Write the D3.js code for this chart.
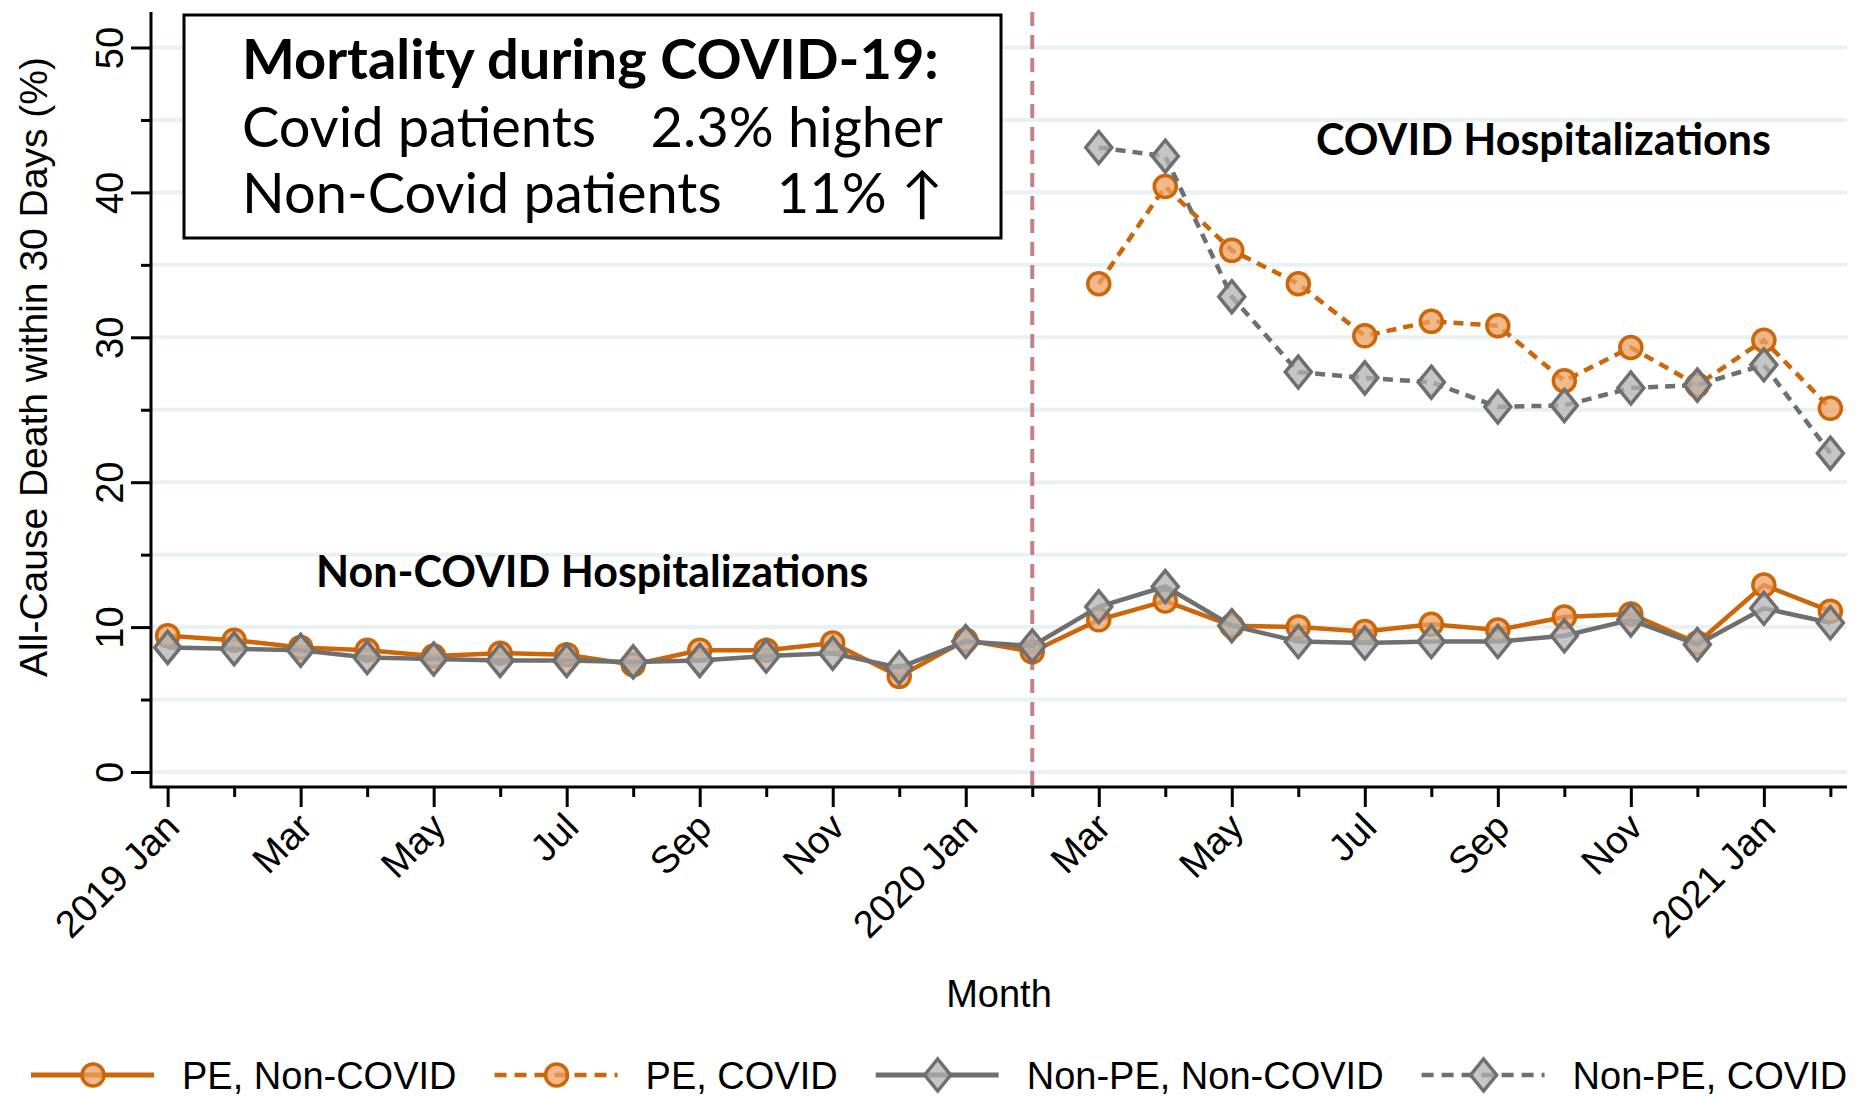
<!DOCTYPE html>
<html>
<head>
<meta charset="utf-8">
<script src="https://cdn.jsdelivr.net/npm/d3@7"></script>
<style>
  html, body { margin: 0; padding: 0; background: #fff; }
  svg { display: block; }
  text { font-family: "Liberation Sans", Arial, sans-serif; fill: #000; }
  .note { font-family: Lato, "Open Sans", sans-serif; }
</style>
</head>
<body>
<div id="chart"></div>
<script>
  // months on the x axis (monthly index)
  const months = ["2019m1","2019m2","2019m3","2019m4","2019m5","2019m6","2019m7","2019m8","2019m9","2019m10","2019m11","2019m12",
    "2020m1","2020m2","2020m3","2020m4","2020m5","2020m6","2020m7","2020m8","2020m9","2020m10","2020m11","2020m12",
    "2021m1","2021m2"];
  const covidMonths = months.slice(14); // Mar 2020 onwards
  const tickLabels = ["2019 Jan","Mar","May","Jul","Sep","Nov","2020 Jan","Mar","May","Jul","Sep","Nov","2021 Jan"];

  // 30-day all-cause death (%)
  const peNonCovid = [9.4, 9.1, 8.6, 8.4, 8.0, 8.2, 8.1, 7.4, 8.4, 8.4, 8.9, 6.6, 9.1, 8.3,
    10.5, 11.8, 10.1, 10.0, 9.7, 10.2, 9.8, 10.7, 10.9, 8.9, 12.9, 11.1];
  const nonPeNonCovid = [8.6, 8.5, 8.4, 7.9, 7.8, 7.7, 7.7, 7.6, 7.7, 8.0, 8.2, 7.2, 9.0, 8.7,
    11.4, 12.8, 10.1, 9.0, 8.9, 9.0, 9.0, 9.4, 10.5, 8.8, 11.3, 10.3];
  const peCovid = [33.7, 40.4, 36.0, 33.7, 30.1, 31.1, 30.8, 27.0, 29.3, 26.7, 29.8, 25.1];
  const nonPeCovid = [43.1, 42.5, 32.8, 27.6, 27.2, 26.9, 25.2, 25.3, 26.5, 26.7, 28.1, 22.0];

  const yTicks = [0, 10, 20, 30, 40, 50];
  const yMinor = [5, 15, 25, 35, 45];
  const covidMarker = "2020m2";

  const orange = "#CC6608", orangeFill = "rgba(236,160,98,0.75)";
  const grey = "#6F6F6F", greyFill = "rgba(178,178,178,0.75)";

  const width = 1862, height = 1096;
  const plot = { left: 151, right: 1847, top: 12, bottom: 787 };

  const svg = d3.select("#chart").append("svg")
    .attr("width", width)
    .attr("height", height);

  const x = d3.scaleLinear()
    .domain([-0.25, months.length - 0.75])
    .range([plot.left, plot.right]);
  const y = d3.scaleLinear()
    .domain([0, 50])
    .range([772, 47.5]);
  const xm = m => x(months.indexOf(m));

  // gridlines
  svg.append("g")
    .selectAll("line")
    .data(yTicks.concat(yMinor))
    .join("line")
    .attr("x1", plot.left).attr("x2", plot.right)
    .attr("y1", d => y(d)).attr("y2", d => y(d))
    .attr("stroke", "#EAF1F2")
    .attr("stroke-width", 4);

  // x axis: labelled every 2 months, minor ticks between
  const major = d3.range(0, months.length, 2);
  const minor = d3.range(1, months.length, 2);
  const xAxis = svg.append("g")
    .attr("transform", `translate(0,${plot.bottom})`)
    .call(d3.axisBottom(x).tickValues(major).tickSize(20).tickSizeOuter(0)
      .tickFormat((d, i) => tickLabels[i]));
  xAxis.select(".domain").remove();
  xAxis.selectAll(".tick line").attr("stroke", "#000").attr("stroke-width", 3);
  xAxis.selectAll(".tick text")
    .attr("y", null).attr("dy", "0.35em")
    .attr("text-anchor", "end")
    .attr("transform", "translate(4,33) rotate(-45)")
    .style("font-size", "38px");
  const xMinor = svg.append("g")
    .attr("transform", `translate(0,${plot.bottom})`)
    .call(d3.axisBottom(x).tickValues(minor).tickSize(10).tickSizeOuter(0).tickFormat(""));
  xMinor.select(".domain").remove();
  xMinor.selectAll(".tick line").attr("stroke", "#000").attr("stroke-width", 3);

  // y axis
  const yAxis = svg.append("g")
    .attr("transform", `translate(${plot.left},0)`)
    .call(d3.axisLeft(y).tickValues(yTicks).tickSize(20).tickSizeOuter(0));
  yAxis.select(".domain").remove();
  yAxis.selectAll(".tick line").attr("stroke", "#000").attr("stroke-width", 3);
  yAxis.selectAll(".tick text")
    .attr("x", null).attr("dy", null)
    .attr("text-anchor", "middle")
    .attr("transform", "translate(-28,0) rotate(-90)")
    .style("font-size", "38px");
  const yMinorAxis = svg.append("g")
    .attr("transform", `translate(${plot.left},0)`)
    .call(d3.axisLeft(y).tickValues(yMinor).tickSize(10).tickSizeOuter(0).tickFormat(""));
  yMinorAxis.select(".domain").remove();
  yMinorAxis.selectAll(".tick line").attr("stroke", "#000").attr("stroke-width", 3);

  // axis lines
  svg.append("path")
    .attr("d", `M${plot.left},${plot.top}V${plot.bottom}H${plot.right}`)
    .attr("fill", "none")
    .attr("stroke", "#000")
    .attr("stroke-width", 3);

  // axis titles
  svg.append("text")
    .attr("transform", "translate(47,367) rotate(-90)")
    .attr("text-anchor", "middle")
    .style("font-size", "39px")
    .text("All-Cause Death within 30 Days (%)");
  svg.append("text")
    .attr("x", (plot.left + plot.right) / 2)
    .attr("y", 1007)
    .attr("text-anchor", "middle")
    .style("font-size", "38px")
    .text("Month");

  // start of covid period
  svg.append("line")
    .attr("x1", xm(covidMarker)).attr("x2", xm(covidMarker))
    .attr("y1", plot.top).attr("y2", plot.bottom)
    .attr("stroke", "#C08284")
    .attr("stroke-width", 4)
    .attr("stroke-dasharray", "14,9");

  // annotation box
  const box = svg.append("g");
  box.append("rect")
    .attr("x", 184).attr("y", 15)
    .attr("width", 817).attr("height", 223)
    .attr("fill", "#fff")
    .attr("stroke", "#000")
    .attr("stroke-width", 3);
  box.append("text").attr("class", "note")
    .attr("x", 242).attr("y", 79)
    .style("font-size", "56px").style("font-weight", "bold")
    .text("Mortality during COVID-19:");
  box.append("text").attr("class", "note")
    .attr("x", 242).attr("y", 147)
    .style("font-size", "56px")
    .text("Covid patients");
  box.append("text").attr("class", "note")
    .attr("x", 943).attr("y", 147).attr("text-anchor", "end")
    .style("font-size", "56px")
    .text("2.3% higher");
  box.append("text").attr("class", "note")
    .attr("x", 242).attr("y", 213)
    .style("font-size", "56px")
    .text("Non-Covid patients");
  box.append("text").attr("class", "note")
    .attr("x", 943).attr("y", 213).attr("text-anchor", "end")
    .style("font-size", "56px")
    .text("11% \u2191");

  svg.append("text").attr("class", "note")
    .attr("x", 1316).attr("y", 155)
    .style("font-size", "43px").style("font-weight", "bold")
    .text("COVID Hospitalizations");
  svg.append("text").attr("class", "note")
    .attr("x", 316).attr("y", 587)
    .style("font-size", "43px").style("font-weight", "bold")
    .text("Non-COVID Hospitalizations");

  // series
  const series = [
    { name: "PE, Non-COVID", keys: months, values: peNonCovid, color: orange, fill: orangeFill, shape: "circle", dash: null },
    { name: "PE, COVID", keys: covidMonths, values: peCovid, color: orange, fill: orangeFill, shape: "circle", dash: "10,7" },
    { name: "Non-PE, Non-COVID", keys: months, values: nonPeNonCovid, color: grey, fill: greyFill, shape: "diamond", dash: null },
    { name: "Non-PE, COVID", keys: covidMonths, values: nonPeCovid, color: grey, fill: greyFill, shape: "diamond", dash: "10,7" }
  ];

  const circleSym = d3.symbol().type(d3.symbolCircle).size(Math.PI * 11 * 11);
  const diamondPath = "M0,-16L13,0L0,16L-13,0Z";
  function marker(sel, s) {
    sel.append("path")
      .attr("d", s.shape === "circle" ? circleSym() : diamondPath)
      .attr("fill", s.fill)
      .attr("stroke", s.color)
      .attr("stroke-width", 3.5);
  }

  const line = d3.line()
    .x(d => xm(d[0]))
    .y(d => y(d[1]));

  series.forEach(s => {
    const pts = s.keys.map((k, i) => [k, s.values[i]]);
    const g = svg.append("g");
    g.append("path")
      .attr("d", line(pts))
      .attr("fill", "none")
      .attr("stroke", s.color)
      .attr("stroke-width", 4.5)
      .attr("stroke-dasharray", s.dash);
    g.selectAll("g")
      .data(pts)
      .join("g")
      .attr("transform", d => `translate(${xm(d[0])},${y(d[1])})`)
      .each(function () { marker(d3.select(this), s); });
  });

  // legend
  const legend = svg.append("g").attr("transform", "translate(31,1075)");
  let lx = 0;
  series.forEach(s => {
    const item = legend.append("g").attr("transform", `translate(${lx},0)`);
    item.append("line")
      .attr("x1", 0).attr("x2", 123)
      .attr("stroke", s.color)
      .attr("stroke-width", s.dash ? 4.5 : 5)
      .attr("stroke-dasharray", s.dash ? "12,8" : null);
    marker(item.append("g").attr("transform", "translate(62,0)"), s);
    const t = item.append("text")
      .attr("x", 151).attr("y", 14)
      .style("font-size", "38px")
      .text(s.name);
    lx += 151 + t.node().getComputedTextLength() + 38;
  });
</script>
</body>
</html>
